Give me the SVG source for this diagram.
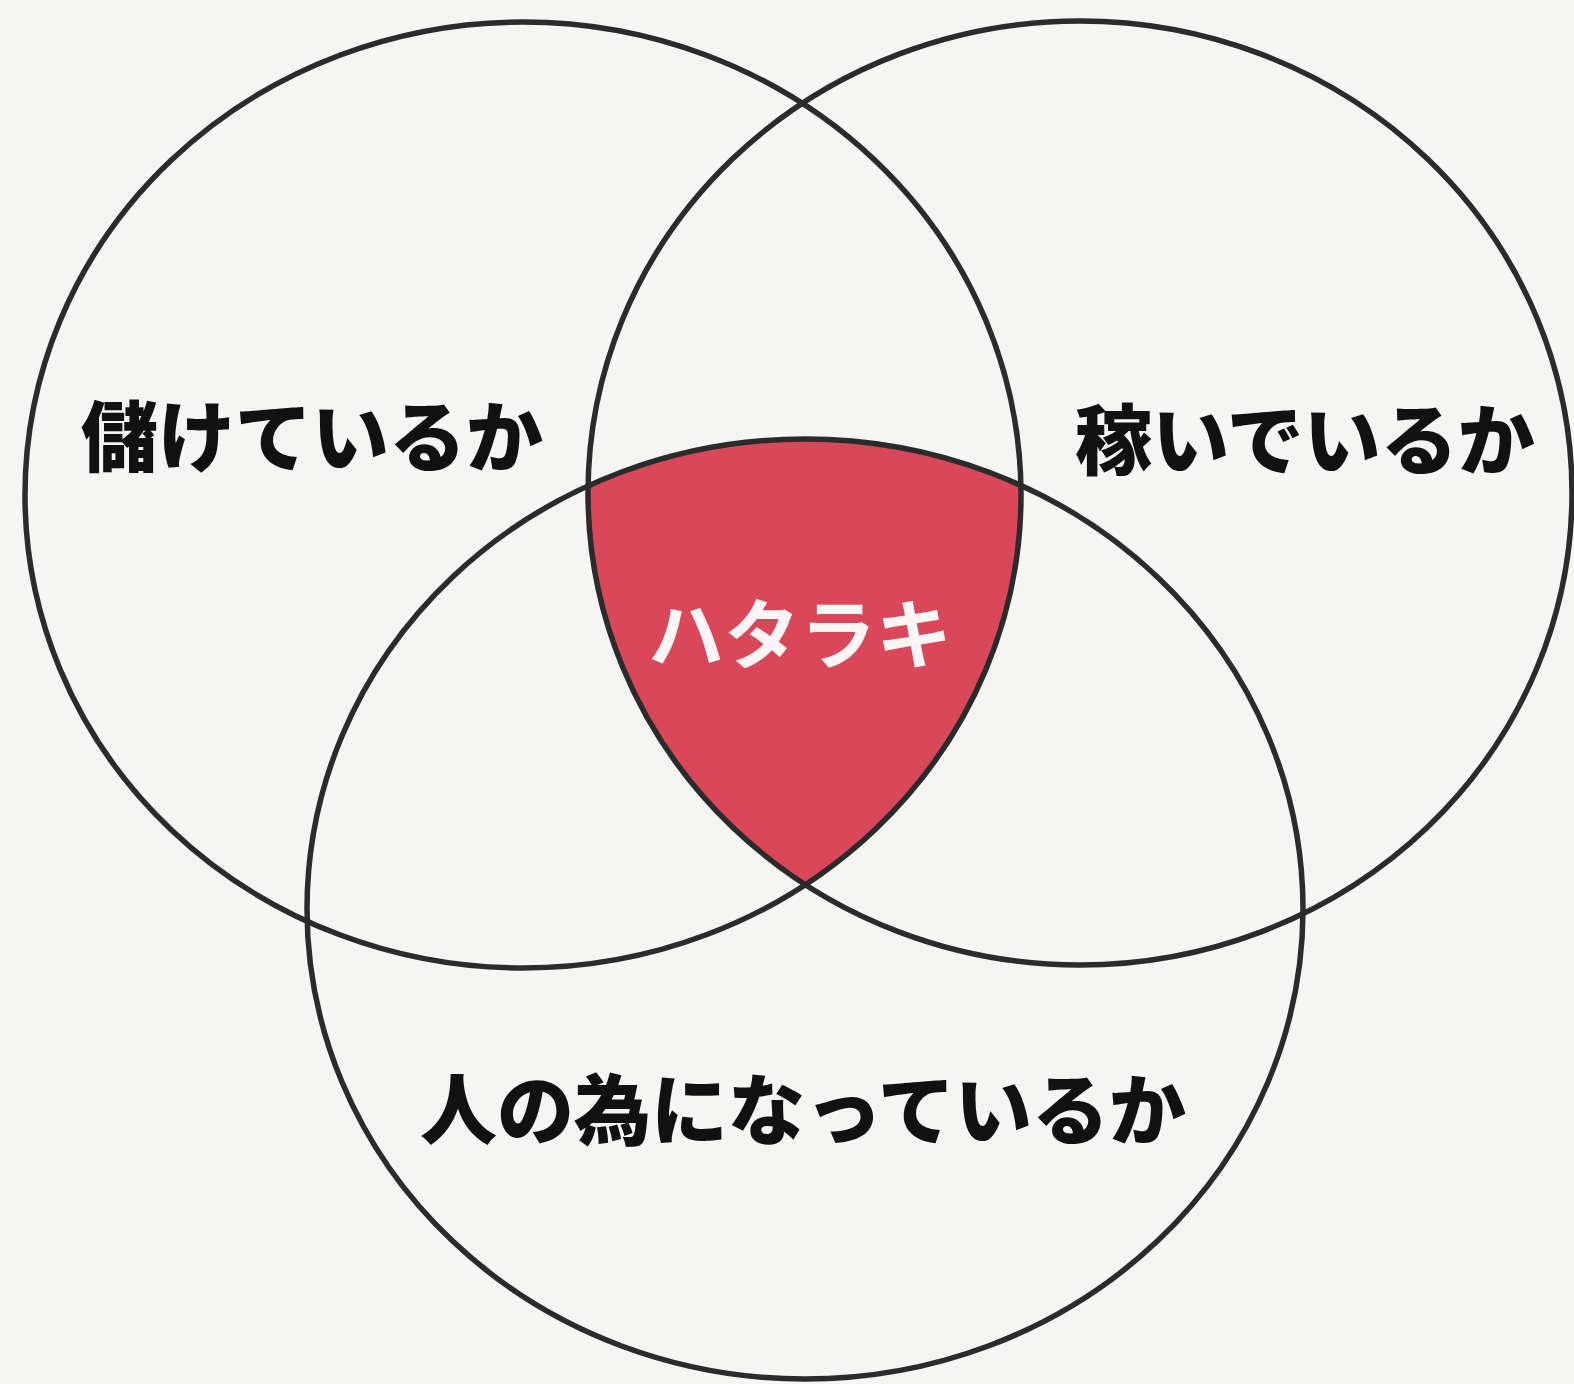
<svg xmlns="http://www.w3.org/2000/svg" width="1574" height="1384" viewBox="0 0 1574 1384">
<style>
.ring{fill:none;stroke:#2b2b2b;stroke-width:5.5}
.lbl{font-family:"Noto Sans CJK JP","Noto Sans",sans-serif;font-weight:900;font-size:77px;fill:#111;text-anchor:middle}
.core{font-family:"Noto Sans CJK JP","Noto Sans",sans-serif;font-weight:700;font-size:76px;fill:#fff5f6;text-anchor:middle}
</style>
<defs>
<clipPath id="cL"><ellipse cx="523" cy="495" rx="498" ry="473"/></clipPath>
<clipPath id="cR"><ellipse cx="1080" cy="493" rx="492" ry="472"/></clipPath>
</defs>
<rect width="1574" height="1384" fill="#f5f5f3"/>
<g id="intersection" clip-path="url(#cL)">
<ellipse cx="805" cy="909" rx="498" ry="470" fill="#d9485a" clip-path="url(#cR)"/>
</g>
<g id="circle-left"><ellipse class="ring" cx="523" cy="495" rx="498" ry="473"/></g>
<g id="circle-right"><ellipse class="ring" cx="1080" cy="493" rx="492" ry="472"/></g>
<g id="circle-bottom"><ellipse class="ring" cx="805" cy="909" rx="498" ry="470"/></g>
<g id="label-left"><text class="lbl" x="312" y="466">儲けているか</text></g>
<g id="label-right"><text class="lbl" x="1305" y="469">稼いでいるか</text></g>
<g id="label-bottom"><text class="lbl" x="803" y="1139">人の為になっているか</text></g>
<g id="label-center"><text class="core" x="800" y="663">ハタラキ</text></g>
</svg>
